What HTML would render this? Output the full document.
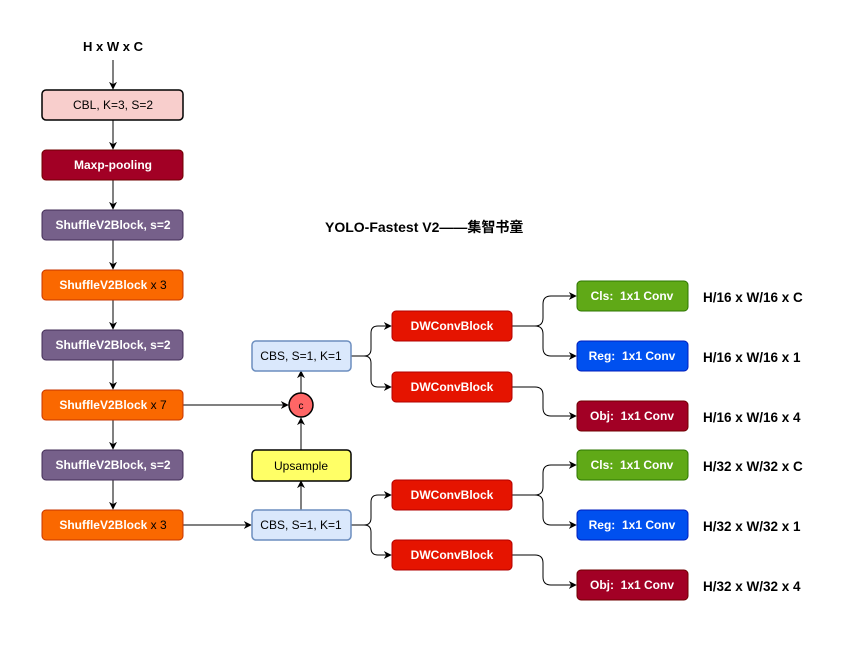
<!DOCTYPE html>
<html><head><meta charset="utf-8"><style>
html,body{margin:0;padding:0;background:#fff;}
svg{display:block;}
text{font-family:"Liberation Sans","Noto Sans CJK SC",sans-serif;font-size:12px;}
.b{font-weight:bold;}
.w{fill:#fff;font-weight:bold;}
.o{font-weight:bold;font-size:13.5px;}
</style></head><body>
<svg width="864" height="660" viewBox="0 0 864 660" xmlns="http://www.w3.org/2000/svg">
<defs>
<marker id="a" viewBox="0 0 10 10" refX="9" refY="5" markerWidth="8" markerHeight="8" orient="auto" markerUnits="userSpaceOnUse">
<path d="M0,0 L10,5 L0,10 L3,5 z" fill="#000"/></marker>
</defs>
<g fill="none" stroke="#000" stroke-width="1" marker-end="url(#a)">
<line x1="113" y1="60" x2="113" y2="89"/>
<line x1="113" y1="120" x2="113" y2="149"/>
<line x1="113" y1="180" x2="113" y2="209"/>
<line x1="113" y1="240" x2="113" y2="269"/>
<line x1="113" y1="300" x2="113" y2="329"/>
<line x1="113" y1="360" x2="113" y2="389"/>
<line x1="113" y1="420" x2="113" y2="449"/>
<line x1="113" y1="480" x2="113" y2="509"/>
<line x1="183" y1="405" x2="288" y2="405"/>
<line x1="183" y1="525" x2="251" y2="525"/>
<line x1="301" y1="510" x2="301" y2="481"/>
<line x1="301" y1="450" x2="301" y2="418"/>
<line x1="301" y1="393" x2="301" y2="371"/>
<path d="M351 356 H364 Q371 356 371 349 V333 Q371 326 378 326 H391"/>
<path d="M351 356 H364 Q371 356 371 363 V380 Q371 387 378 387 H391"/>
<path d="M351 525 H364 Q371 525 371 518 V502 Q371 495 378 495 H391"/>
<path d="M351 525 H364 Q371 525 371 532 V548 Q371 555 378 555 H391"/>
<path d="M512 326 H535 Q543 326 543 318 V304 Q543 296 551 296 H576"/>
<path d="M512 326 H535 Q543 326 543 334 V348 Q543 356 551 356 H576"/>
<path d="M512 387 H535 Q543 387 543 395 V408 Q543 416 551 416 H576"/>
<path d="M512 495 H535 Q543 495 543 487 V473 Q543 465 551 465 H576"/>
<path d="M512 495 H535 Q543 495 543 503 V517 Q543 525 551 525 H576"/>
<path d="M512 555 H535 Q543 555 543 563 V577 Q543 585 551 585 H576"/>
</g>
<text x="113" y="51" text-anchor="middle" class="b" style="font-size:13px">H x W x C</text>
<rect x="42" y="90" width="141" height="30" rx="4" fill="#f8cecc" stroke="#000" stroke-width="1.5"/>
<text x="113" y="109" text-anchor="middle">CBL, K=3, S=2</text>
<rect x="42" y="150" width="141" height="30" rx="4" fill="#a20025" stroke="#6f0000"/>
<text x="113" y="169" text-anchor="middle" class="w">Maxp-pooling</text>
<rect x="42" y="210" width="141" height="30" rx="4" fill="#76608a" stroke="#432d57"/>
<text x="113" y="229" text-anchor="middle" class="w">ShuffleV2Block, s=2</text>
<rect x="42" y="270" width="141" height="30" rx="4" fill="#fa6800" stroke="#c73500"/>
<text x="113" y="289" text-anchor="middle"><tspan class="w">ShuffleV2Block</tspan> x 3</text>
<rect x="42" y="330" width="141" height="30" rx="4" fill="#76608a" stroke="#432d57"/>
<text x="113" y="349" text-anchor="middle" class="w">ShuffleV2Block, s=2</text>
<rect x="42" y="390" width="141" height="30" rx="4" fill="#fa6800" stroke="#c73500"/>
<text x="113" y="409" text-anchor="middle"><tspan class="w">ShuffleV2Block</tspan> x 7</text>
<rect x="42" y="450" width="141" height="30" rx="4" fill="#76608a" stroke="#432d57"/>
<text x="113" y="469" text-anchor="middle" class="w">ShuffleV2Block, s=2</text>
<rect x="42" y="510" width="141" height="30" rx="4" fill="#fa6800" stroke="#c73500"/>
<text x="113" y="529" text-anchor="middle"><tspan class="w">ShuffleV2Block</tspan> x 3</text>
<text x="325" y="232" class="b" style="font-size:14px">YOLO-Fastest V2——集智书童</text>
<rect x="252" y="341" width="99" height="30" rx="4" fill="#dae8fc" stroke="#6c8ebf" stroke-width="1.5"/>
<text x="301" y="360" text-anchor="middle">CBS, S=1, K=1</text>
<circle cx="301" cy="405" r="12" fill="#ff6666" stroke="#000" stroke-width="1.5"/>
<text x="301" y="409" text-anchor="middle" style="font-size:10px">c</text>
<rect x="252" y="450" width="99" height="31" rx="4" fill="#ffff66" stroke="#000" stroke-width="1.5"/>
<text x="301" y="470" text-anchor="middle">Upsample</text>
<rect x="252" y="510" width="99" height="30" rx="4" fill="#dae8fc" stroke="#6c8ebf" stroke-width="1.5"/>
<text x="301" y="529" text-anchor="middle">CBS, S=1, K=1</text>
<g fill="#e51400" stroke="#b20000">
<rect x="392" y="311" width="120" height="30" rx="4"/>
<rect x="392" y="372" width="120" height="30" rx="4"/>
<rect x="392" y="480" width="120" height="30" rx="4"/>
<rect x="392" y="540" width="120" height="30" rx="4"/>
</g>
<text x="452" y="330" text-anchor="middle" class="w">DWConvBlock</text>
<text x="452" y="391" text-anchor="middle" class="w">DWConvBlock</text>
<text x="452" y="499" text-anchor="middle" class="w">DWConvBlock</text>
<text x="452" y="559" text-anchor="middle" class="w">DWConvBlock</text>
<rect x="577" y="281" width="111" height="30" rx="4" fill="#60a917" stroke="#2d7600"/>
<rect x="577" y="341" width="111" height="30" rx="4" fill="#0050ef" stroke="#001dbc"/>
<rect x="577" y="401" width="111" height="30" rx="4" fill="#a20025" stroke="#6f0000"/>
<rect x="577" y="450" width="111" height="30" rx="4" fill="#60a917" stroke="#2d7600"/>
<rect x="577" y="510" width="111" height="30" rx="4" fill="#0050ef" stroke="#001dbc"/>
<rect x="577" y="570" width="111" height="30" rx="4" fill="#a20025" stroke="#6f0000"/>
<text x="632" y="300" text-anchor="middle" class="w">Cls:&#160; 1x1 Conv</text>
<text x="632" y="360" text-anchor="middle" class="w">Reg:&#160; 1x1 Conv</text>
<text x="632" y="420" text-anchor="middle" class="w">Obj:&#160; 1x1 Conv</text>
<text x="632" y="469" text-anchor="middle" class="w">Cls:&#160; 1x1 Conv</text>
<text x="632" y="529" text-anchor="middle" class="w">Reg:&#160; 1x1 Conv</text>
<text x="632" y="589" text-anchor="middle" class="w">Obj:&#160; 1x1 Conv</text>
<text x="703" y="302" class="o">H/16 x W/16 x C</text>
<text x="703" y="362" class="o">H/16 x W/16 x 1</text>
<text x="703" y="422" class="o">H/16 x W/16 x 4</text>
<text x="703" y="471" class="o">H/32 x W/32 x C</text>
<text x="703" y="531" class="o">H/32 x W/32 x 1</text>
<text x="703" y="591" class="o">H/32 x W/32 x 4</text>
</svg>
</body></html>
